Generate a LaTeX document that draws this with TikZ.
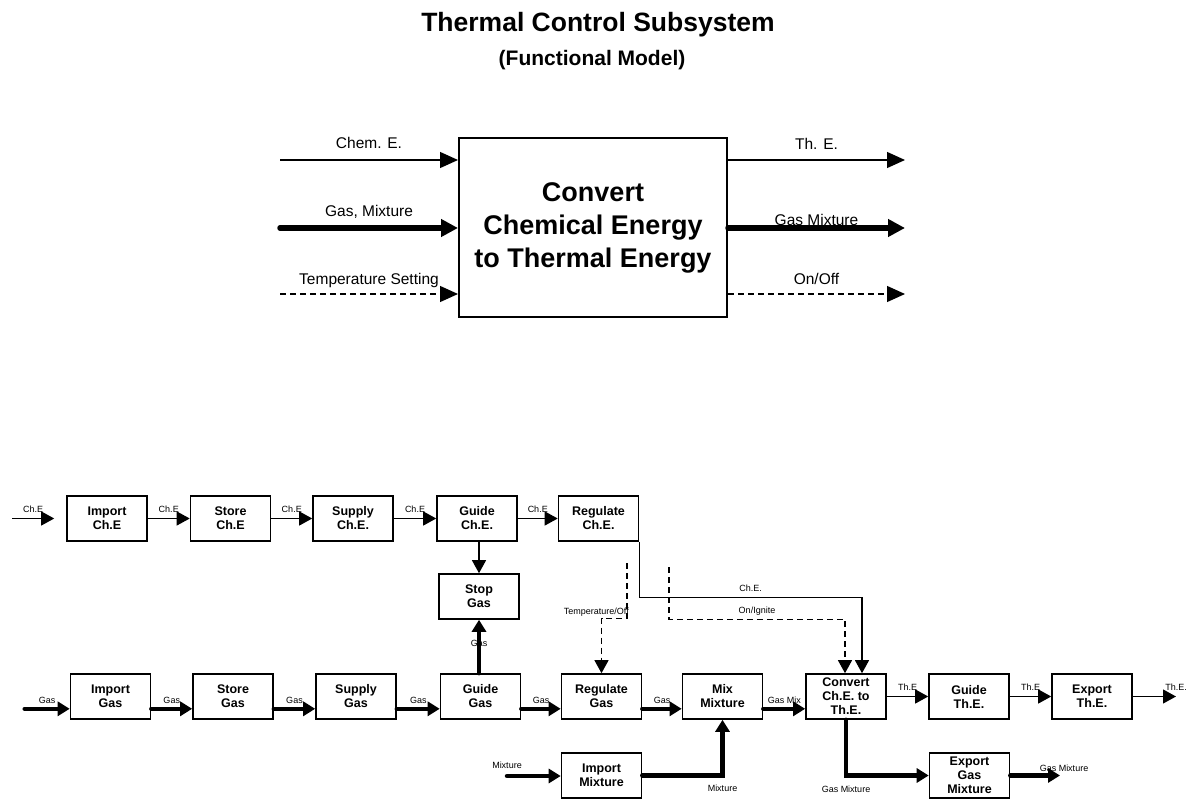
\documentclass[tikz,border=0pt]{standalone}
\usepackage{fontspec}
\setmainfont{Liberation Sans}
\usetikzlibrary{arrows.meta,calc}
\begin{document}
\begin{tikzpicture}[
        x=1pt,y=-1pt,
        fbox/.style={
            draw,line width=1.6pt,inner sep=0pt,align=center,
            minimum width=80pt,minimum height=45pt,
            font=\fontsize{12.5}{14}\selectfont\bfseries
        },
        lbl/.style={inner sep=0pt,font=\fontsize{9}{10}\selectfont},
        biglbl/.style={inner sep=0pt,anchor=base,font=\fontsize{15.5}{17}\selectfont},
        chflow/.style={line width=1.2pt,-{Triangle[length=13pt,width=14pt]}},
        gasflow/.style={line width=4.5pt,line cap=round,-{Triangle[length=12pt,width=14pt]}},
        sigflow/.style={chflow,dash pattern=on 6pt off 4pt},
        enflow/.style={line width=1.3pt,-{Triangle[length=18pt,width=16pt]}},
        matflow/.style={line width=5.5pt,line cap=round,-{Triangle[length=17pt,width=17pt]}},
        setflow/.style={enflow,dash pattern=on 6pt off 4pt}
    ]
\useasboundingbox (0,0) rectangle (1189,799);
% Title
    \node[anchor=base,inner sep=0pt,font=\fontsize{26.5}{30}\selectfont\bfseries] (title) at (598,32) {Thermal Control Subsystem};
    \node[anchor=base,inner sep=0pt,font=\fontsize{21}{24}\selectfont\bfseries] (subtitle) at (592,66) {(Functional Model)};
% Black box
    \node[draw,line width=2pt,minimum width=268pt,minimum height=179pt,align=center,
        font=\fontsize{27}{33}\selectfont\bfseries] (black) at (593,227.5) {Convert\\Chemical Energy\\to Thermal Energy};
    \coordinate (inChem) at (280,160);
    \coordinate (inGasMix) at (280,228);
    \coordinate (inTemp) at (280,294);
    \coordinate (outTh) at (905,160);
    \coordinate (outGasMix) at (905,228);
    \coordinate (outOn) at (905,294);
    \draw[enflow] (inChem) -- (inChem -| black.west) node[biglbl,midway,yshift=11pt] (chemL) {Chem. E.};
    \draw[matflow] (inGasMix) -- (inGasMix -| black.west) node[biglbl,midway,yshift=11.5pt] (gasmixL) {Gas, Mixture};
    \draw[setflow] (inTemp) -- (inTemp -| black.west) node[biglbl,midway,yshift=9.5pt] (tempsetL) {Temperature Setting};
    \draw[enflow] (outTh -| black.east) -- (outTh) node[biglbl,midway,yshift=10.5pt] (thL) {Th. E.};
    \draw[matflow] (outGasMix -| black.east) -- (outGasMix) node[biglbl,midway,yshift=2.5pt] (gasmixoutL) {Gas Mixture};
    \draw[setflow] (outOn -| black.east) -- (outOn) node[biglbl,midway,yshift=9.5pt] (onoffL) {On/Off};
% Functions
    \node[fbox] (impCh) at (107,518.5) {Import\\Ch.E};
    \node[fbox] (stoCh) at (230.5,518.5) {Store\\Ch.E};
    \node[fbox] (supCh) at (353,518.5) {Supply\\Ch.E.};
    \node[fbox] (guiCh) at (477,518.5) {Guide\\Ch.E.};
    \node[fbox] (regCh) at (598.5,518.5) {Regulate\\Ch.E.};
    \node[fbox] (stopG) at (479,596.5) {Stop\\Gas};
    \node[fbox] (impG) at (110.5,696.5) {Import\\Gas};
    \node[fbox] (stoG) at (233,696.5) {Store\\Gas};
    \node[fbox] (supG) at (356,696.5) {Supply\\Gas};
    \node[fbox] (guiG) at (480.5,696.5) {Guide\\Gas};
    \node[fbox] (regG) at (601.5,696.5) {Regulate\\Gas};
    \node[fbox] (mix) at (722.5,696.5) {Mix\\Mixture};
    \node[fbox] (conv) at (846,696.5) {Convert\\Ch.E. to\\Th.E.};
    \node[fbox] (guiTh) at (969,696.5) {Guide\\Th.E.};
    \node[fbox] (expTh) at (1092,696.5) {Export\\Th.E.};
    \node[fbox] (impM) at (601.5,775.5) {Import\\Mixture};
    \node[fbox] (expGM) at (969.5,775.5) {Export\\Gas\\Mixture};
% Chemical energy
    \coordinate (inCh) at (12,518.5);
    \draw[chflow] (inCh) -- ([xshift=-12pt]impCh.west) node[lbl,midway,above=5pt] (chL0) {Ch.E};
\foreach\a/\b in {impCh/stoCh,stoCh/supCh,supCh/guiCh,guiCh/regCh}{
    \draw[chflow] (\a) -- (\b) node[lbl,midway,above=5pt] (chL-\a) {Ch.E};
}
    \draw[chflow] (guiCh.south -| stopG) -- (stopG);
    \draw[chflow] (regCh.south east) -- ++(0,56) -| node[lbl,pos=0.25,above=6pt] (chL) {Ch.E.} ($(conv.north)+(16,0)$);
% Gas
    \coordinate (inG) at ($(impG.south west)+(-45,-11)$);
    \draw[gasflow] (inG) -- ($(impG.south west)+(0,-11)$) node[lbl,midway,above=3pt] (gL0) {Gas};
\foreach\a/\b in {impG/stoG,stoG/supG,supG/guiG,guiG/regG,regG/mix}{
    \draw[gasflow] ($(\a.south east)+(0,-11)$) -- ($(\b.south west)+(0,-11)$) node[lbl,midway,above=3pt] (gL-\a) {Gas};
}
    \draw[gasflow] (guiG.north -| stopG) -- (stopG) node[lbl,pos=0.56] (gsL) {Gas};
    \draw[gasflow] ($(mix.south east)+(0,-11)$) -- ($(conv.south west)+(0,-11)$) node[lbl,midway,above=3pt] (gmixL) {Gas Mix};
% Mixture
    \coordinate (inM) at (507,776);
    \draw[gasflow] (inM) -- (inM -| impM.west) node[lbl,pos=0,above=5pt] (mL0) {Mixture};
    \draw[gasflow] (impM.east) -| node[lbl,pos=0.5,below=7pt] (mL1) {Mixture} (mix.south);
    \draw[gasflow] (conv.south) |- node[lbl,pos=0.5,below=8pt] (gmL0) {Gas Mixture} (expGM.west);
    \coordinate (outGM) at (1060,775.5);
    \draw[gasflow] (expGM) -- (outGM) node[lbl,pos=1,above=2pt,xshift=4pt] (gmL1) {Gas Mixture};
% Control signals
    \coordinate (tempS) at (627,563);
    \draw[sigflow] (tempS) |- ($(regG.north)+(0,-55)$) -- (regG.north);
    \node[lbl,anchor=base east] (tempL) at (629,614) {Temperature/Off};
    \coordinate (ignS) at (669,567);
    \draw[sigflow] (ignS) |- node[lbl,pos=0.75,above=3pt] (ignL) {On/Ignite} ($(conv.north)+(-1,-54)$) -- ($(conv.north)+(-1,0)$);
% Thermal energy
\foreach\a/\b in {conv/guiTh,guiTh/expTh}{
    \draw[chflow] (\a) -- (\b) node[lbl,midway,above=5pt] (tL-\a) {Th.E};
}
    \coordinate (outTE) at (1176,696.5);
    \draw[chflow] (expTh) -- (outTE) node[lbl,pos=1,above=5pt] (tL) {Th.E.};
\end{tikzpicture}
\end{document}
